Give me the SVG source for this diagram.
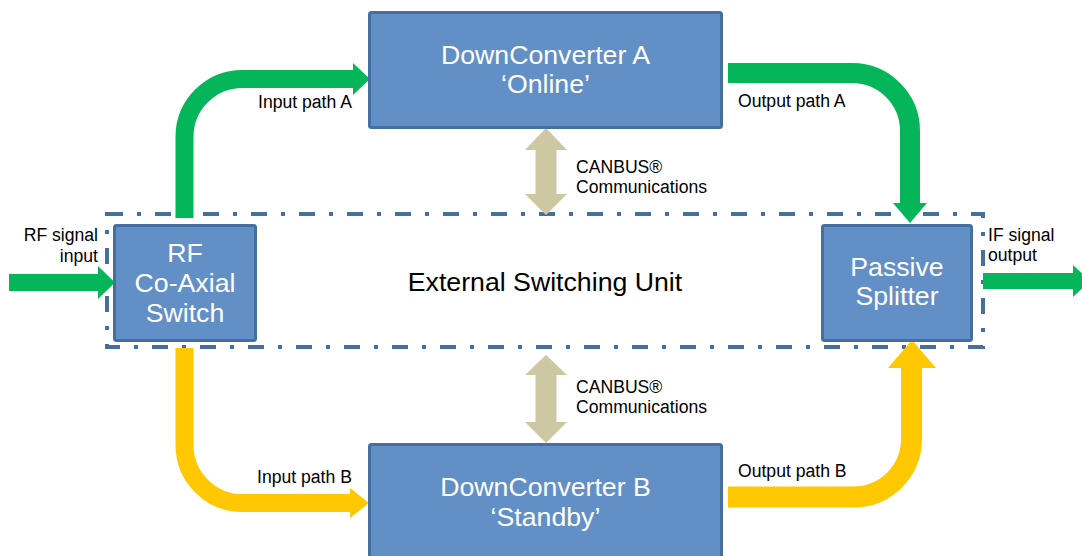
<svg xmlns="http://www.w3.org/2000/svg" width="1082" height="556" viewBox="0 0 1082 556">
<style>
.box{fill:#6290c6;stroke:#446f9f;stroke-width:3}
.bt{font-family:"Liberation Sans",Arial,sans-serif;font-size:26.7px;fill:#ffffff;text-anchor:middle}
.lbl{font-family:"Liberation Sans",Arial,sans-serif;font-size:17.6px;fill:#000000}
.g{fill:none;stroke:#05b55a}
.y{fill:none;stroke:#ffc800}
.gh{fill:#05b55a}
.yh{fill:#ffc800}
.tan{fill:#cdc8a1}
</style>
<rect width="1082" height="556" fill="#ffffff"/>
<g id="esu">
<rect x="107" y="214" width="876" height="133" fill="none" stroke="#44709f" stroke-width="4" stroke-dasharray="16 14 4 14"/>
<text x="545" y="291" font-family="Liberation Sans, Arial, sans-serif" font-size="26.7" text-anchor="middle" fill="#000">External Switching Unit</text>
</g>
<g id="connectors">
<path class="g" stroke-width="18" d="M184.5 218 V137 A58 58 0 0 1 242.5 79 H354"/>
<polygon class="gh" points="353,63 370,79 353,95"/>
<path class="g" stroke-width="20" d="M728 73 H852 A58 58 0 0 1 910 131 V204"/>
<polygon class="gh" points="893,203 927,203 910,223"/>
<path class="y" stroke-width="18" d="M184.5 348 V445 A58 58 0 0 0 242.5 503 H351"/>
<polygon class="yh" points="350,488 369,503 350,518"/>
<path class="y" stroke-width="21" d="M728 497 H853 A58 58 0 0 0 911.5 439 V367"/>
<polygon class="yh" points="888,368 936,368 912,340"/>
<path class="g" stroke-width="17" d="M9 282.5 H99"/>
<polygon class="gh" points="98,266 115,282.5 98,299"/>
<path class="g" stroke-width="16" d="M983 281 H1074"/>
<polygon class="gh" points="1073,265 1090,281 1073,297"/>
<polygon class="tan" points="546,128 567,150 556.5,150 556.5,194 567,194 546,215 525,194 535.5,194 535.5,150 525,150"/>
<polygon class="tan" points="546,355 567,375 556.5,375 556.5,422 567,422 546,443 525,422 535.5,422 535.5,375 525,375"/>
<text class="lbl" x="258" y="108">Input path A</text>
<text class="lbl" x="738" y="107">Output path A</text>
<text class="lbl" x="257" y="483">Input path B</text>
<text class="lbl" x="738" y="477">Output path B</text>
<text class="lbl" x="576" y="173">CANBUS®</text>
<text class="lbl" x="576" y="193">Communications</text>
<text class="lbl" x="576" y="393">CANBUS®</text>
<text class="lbl" x="576" y="413">Communications</text>
<text class="lbl" x="98" y="241" text-anchor="end">RF signal</text>
<text class="lbl" x="98" y="262" text-anchor="end">input</text>
<text class="lbl" x="988" y="241">IF signal</text>
<text class="lbl" x="988" y="261">output</text>
</g>
<g id="dcA">
<rect class="box" x="369.5" y="12.5" width="352" height="115" rx="2"/>
<text class="bt" x="545.5" y="64">DownConverter A</text>
<text class="bt" x="545.5" y="93">‘Online’</text>
</g>
<g id="dcB">
<rect class="box" x="369.5" y="444.5" width="352" height="130" rx="2"/>
<text class="bt" x="545.5" y="496">DownConverter B</text>
<text class="bt" x="545.5" y="526">‘Standby’</text>
</g>
<g id="rfswitch">
<rect class="box" x="114.5" y="225.5" width="141" height="115" rx="2"/>
<text class="bt" x="185" y="262">RF</text>
<text class="bt" x="185" y="292">Co-Axial</text>
<text class="bt" x="185" y="322">Switch</text>
</g>
<g id="splitter">
<rect class="box" x="822.5" y="225.5" width="149" height="115" rx="2"/>
<text class="bt" x="897" y="276">Passive</text>
<text class="bt" x="897" y="305">Splitter</text>
</g>
</svg>
